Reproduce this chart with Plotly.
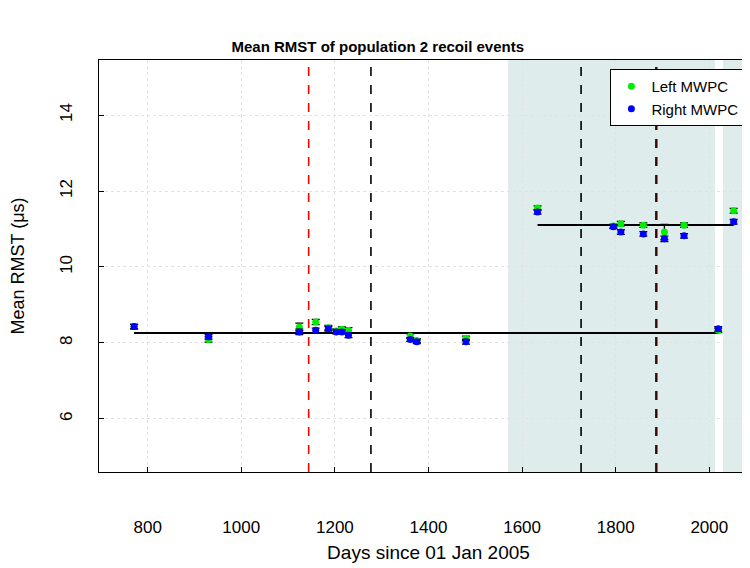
import plotly.graph_objects as go

# Days since 01 Jan 2005, first data-taking period (population 2 at ~8.3 us)
days_a = [771, 930, 1124, 1159, 1186, 1203, 1215, 1229, 1361, 1375, 1480, 2019]
left_a = [8.43, 8.09, 8.42, 8.55, 8.40, 8.31, 8.36, 8.33, 8.18, 8.06, 8.12, 8.33]
right_a = [8.43, 8.16, 8.29, 8.33, 8.37, 8.29, 8.29, 8.20, 8.09, 8.03, 8.03, 8.37]
left_err_a = [0.06, 0.07, 0.10, 0.07, 0.06, 0.06, 0.06, 0.07, 0.06, 0.05, 0.06, 0.06]
right_err_a = [0.06, 0.06, 0.07, 0.06, 0.06, 0.05, 0.05, 0.06, 0.05, 0.05, 0.06, 0.06]

# second period (~11.1 us)
days_b = [1633, 1795, 1811, 1859, 1904, 1946, 2052]
left_b = [11.55, 11.08, 11.14, 11.10, 10.92, 11.10, 11.48]
right_b = [11.45, 11.06, 10.92, 10.87, 10.74, 10.82, 11.19]
left_err_b = [0.06, 0.05, 0.06, 0.06, 0.20, 0.06, 0.06]
right_err_b = [0.06, 0.05, 0.06, 0.06, 0.07, 0.06, 0.06]

# fitted means
fit_a = 8.26
fit_b = 11.105

# markers of run changes
red_lines = [1144, 1888]
black_lines = [1277, 1726, 1886]
# shaded periods
shaded = [(1570, 2012), (2029, 2110)]

fig = go.Figure()

for start, end in shaded:
    fig.add_vrect(x0=start, x1=end, fillcolor='#dfecec', opacity=1, line_width=0, layer='below')

for d in red_lines:
    fig.add_shape(type='line', x0=d, x1=d, y0=0, y1=1, yref='paper',
                  line=dict(color='#ff0000', width=1.6, dash='dash'))
for d in black_lines:
    fig.add_shape(type='line', x0=d, x1=d, y0=0, y1=1, yref='paper',
                  line=dict(color='black', width=1.6, dash='dash'))

# fit lines span each period
fig.add_trace(go.Scatter(x=[days_a[0], days_a[-1]], y=[fit_a, fit_a], mode='lines',
                         line=dict(color='black', width=2), showlegend=False, hoverinfo='skip'))
fig.add_trace(go.Scatter(x=[days_b[0], days_b[-1]], y=[fit_b, fit_b], mode='lines',
                         line=dict(color='black', width=2), showlegend=False, hoverinfo='skip'))

days = days_a + days_b
err_style = dict(type='data', color='black', thickness=1.3, width=4)

fig.add_trace(go.Scatter(
    x=days, y=left_a + left_b, mode='markers', name='Left MWPC',
    marker=dict(color='#00ee00', size=7),
    error_y=dict(array=left_err_a + left_err_b, **err_style)))
fig.add_trace(go.Scatter(
    x=days, y=right_a + right_b, mode='markers', name='Right MWPC',
    marker=dict(color='#0000ff', size=7),
    error_y=dict(array=right_err_a + right_err_b, **err_style)))

axis_style = dict(showline=True, linecolor='black', linewidth=1, mirror=True,
                  ticks='inside', ticklen=5, tickcolor='black',
                  showgrid=True, gridcolor='#e2e2e2', griddash='dot', gridwidth=1,
                  zeroline=False, tickfont=dict(size=17, color='black'))

fig.update_xaxes(range=[696, 2104], tickvals=[800, 1000, 1200, 1400, 1600, 1800, 2000],
                 ticklabelstandoff=40,
                 title=dict(text='Days since 01 Jan 2005', font=dict(size=19), standoff=9),
                 **axis_style)
fig.update_yaxes(range=[4.6, 15.45], tickvals=[6, 8, 10, 12, 14], tickangle=-90,
                 ticklabelstandoff=19,
                 title=dict(text='Mean RMST (\u03bcs)', font=dict(size=18), standoff=28),
                 **axis_style)

# page body adds an 8px offset, so the margins are shifted to compensate
fig.update_layout(
    width=750, height=568,
    margin=dict(l=91, r=0, t=52, b=104),
    paper_bgcolor='white', plot_bgcolor='white',
    font=dict(family='Liberation Sans, Arial, sans-serif', color='black'),
    title=dict(text='<b>Mean RMST of population 2 recoil events</b>', x=0.493, xanchor='center',
               y=1 - 39 / 568, yanchor='middle', yref='container', font=dict(size=15)),
    legend=dict(x=0.776, xanchor='left', y=0.978, yanchor='top',
                bgcolor='white', bordercolor='black', borderwidth=1,
                font=dict(size=15), itemwidth=30, tracegroupgap=0),
    showlegend=True,
)

fig.write_html("out.html")
